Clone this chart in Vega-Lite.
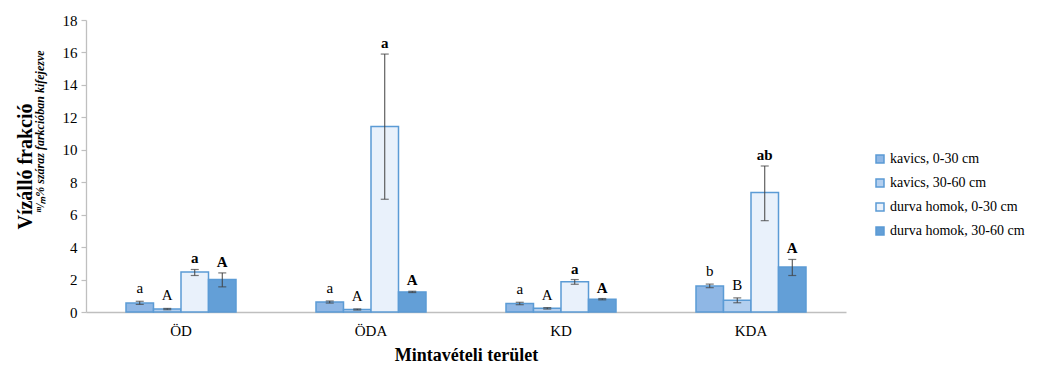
{
  "$schema": "https://vega.github.io/schema/vega-lite/v6.json",
  "width": 760,
  "height": 292,
  "autosize": {"type": "none"},
  "padding": {"left": 86, "top": 20, "right": 192, "bottom": 53},
  "background": "white",
  "config": {
    "font": "Liberation Serif",
    "view": {"stroke": null},
    "style": {"guide-label": {"font": "Liberation Serif"}, "guide-title": {"font": "Liberation Serif"}},
    "axis": {"grid": false, "labelFont": "Liberation Serif", "titleFont": "Liberation Serif", "labelColor": "#000000", "titleColor": "#000000"}
  },
  "data": {
    "values": [
      {"site": "ÖD", "series": "kavics, 0-30 cm", "value": 0.55, "lo": 0.47, "hi": 0.66, "label": "a", "bold": false},
      {"site": "ÖD", "series": "kavics, 30-60 cm", "value": 0.18, "lo": 0.14, "hi": 0.22, "label": "A", "bold": false},
      {"site": "ÖD", "series": "durva homok, 0-30 cm", "value": 2.47, "lo": 2.25, "hi": 2.62, "label": "a", "bold": true},
      {"site": "ÖD", "series": "durva homok, 30-60 cm", "value": 2.0, "lo": 1.55, "hi": 2.41, "label": "A", "bold": true},
      {"site": "ÖDA", "series": "kavics, 0-30 cm", "value": 0.62, "lo": 0.55, "hi": 0.68, "label": "a", "bold": false},
      {"site": "ÖDA", "series": "kavics, 30-60 cm", "value": 0.15, "lo": 0.12, "hi": 0.19, "label": "A", "bold": false},
      {"site": "ÖDA", "series": "durva homok, 0-30 cm", "value": 11.44, "lo": 6.95, "hi": 15.9, "label": "a", "bold": true},
      {"site": "ÖDA", "series": "durva homok, 30-60 cm", "value": 1.24, "lo": 1.2, "hi": 1.28, "label": "A", "bold": true},
      {"site": "KD", "series": "kavics, 0-30 cm", "value": 0.52, "lo": 0.45, "hi": 0.6, "label": "a", "bold": false},
      {"site": "KD", "series": "kavics, 30-60 cm", "value": 0.23, "lo": 0.18, "hi": 0.27, "label": "A", "bold": false},
      {"site": "KD", "series": "durva homok, 0-30 cm", "value": 1.86, "lo": 1.71, "hi": 2.0, "label": "a", "bold": true},
      {"site": "KD", "series": "durva homok, 30-60 cm", "value": 0.79, "lo": 0.75, "hi": 0.83, "label": "A", "bold": true},
      {"site": "KDA", "series": "kavics, 0-30 cm", "value": 1.6, "lo": 1.5, "hi": 1.72, "label": "b", "bold": false},
      {"site": "KDA", "series": "kavics, 30-60 cm", "value": 0.72, "lo": 0.57, "hi": 0.87, "label": "B", "bold": false},
      {"site": "KDA", "series": "durva homok, 0-30 cm", "value": 7.36, "lo": 5.63, "hi": 9.0, "label": "ab", "bold": true},
      {"site": "KDA", "series": "durva homok, 30-60 cm", "value": 2.78, "lo": 2.25, "hi": 3.24, "label": "A", "bold": true}
    ]
  },
  "encoding": {
    "x": {
      "field": "site", "type": "nominal", "sort": ["ÖD", "ÖDA", "KD", "KDA"],
      "scale": {"paddingInner": 0.421, "paddingOuter": 0.2105},
      "axis": {
        "title": "Mintavételi terület", "titleFont": "Liberation Serif", "titleFontSize": 18, "titleFontWeight": "bold", "titlePadding": 8,
        "labelFont": "Liberation Serif", "labelFontSize": 15, "labelPadding": 11, "labelAngle": 0, "ticks": false,
        "domainColor": "#bfbfbf", "domainWidth": 1.3
      }
    },
    "xOffset": {
      "field": "series", "type": "nominal",
      "sort": ["kavics, 0-30 cm", "kavics, 30-60 cm", "durva homok, 0-30 cm", "durva homok, 30-60 cm"],
      "scale": {"paddingInner": 0, "paddingOuter": 0}
    }
  },
  "layer": [
    {
      "mark": {"type": "bar", "stroke": "#5b9bd5", "strokeWidth": 1.5},
      "encoding": {
        "y": {
          "field": "value", "type": "quantitative",
          "scale": {"domain": [0, 18], "nice": false},
          "axis": {
            "values": [0, 2, 4, 6, 8, 10, 12, 14, 16, 18],
            "title": "ᵐ/ₘ% száraz farkcióban kifejezve",
            "titleFont": "Liberation Serif", "titleFontSize": 12, "titleFontStyle": "italic", "titleFontWeight": "bold", "titlePadding": 16, "titleY": 111,
            "labelFont": "Liberation Serif", "labelFontSize": 15, "labelPadding": 4,
            "ticks": true, "tickSize": 5, "tickColor": "#bfbfbf", "tickWidth": 1.2,
            "domainColor": "#bfbfbf", "domainWidth": 1.3
          }
        },
        "fill": {
          "field": "series", "type": "nominal",
          "sort": ["kavics, 0-30 cm", "kavics, 30-60 cm", "durva homok, 0-30 cm", "durva homok, 30-60 cm"],
          "scale": {
            "domain": ["kavics, 0-30 cm", "kavics, 30-60 cm", "durva homok, 0-30 cm", "durva homok, 30-60 cm"],
            "range": ["#8fb7e5", "#b3cfef", "#e9f1fb", "#639fd7"]
          },
          "legend": {
            "title": null, "orient": "none", "legendX": 787, "legendY": 132,
            "symbolType": "square", "symbolSize": 64, "symbolStrokeColor": "#5b9bd5", "symbolStrokeWidth": 1.5,
            "labelFont": "Liberation Serif", "labelFontSize": 14, "labelColor": "#000000", "labelOffset": 3, "rowPadding": 10, "labelLimit": 300
          }
        }
      }
    },
    {
      "mark": {"type": "rule", "color": "#404040", "strokeWidth": 1},
      "encoding": {
        "y": {"field": "lo", "type": "quantitative", "scale": {"domain": [0, 18], "nice": false}, "axis": null},
        "y2": {"field": "hi"}
      }
    },
    {
      "mark": {"type": "tick", "color": "#404040", "size": 8, "thickness": 1.2, "orient": "horizontal"},
      "encoding": {
        "y": {"field": "hi", "type": "quantitative", "scale": {"domain": [0, 18], "nice": false}, "axis": null}
      }
    },
    {
      "mark": {"type": "tick", "color": "#404040", "size": 8, "thickness": 1.2, "orient": "horizontal"},
      "encoding": {
        "y": {"field": "lo", "type": "quantitative", "scale": {"domain": [0, 18], "nice": false}, "axis": null}
      }
    },
    {
      "transform": [{"filter": "!datum.bold"}],
      "mark": {"type": "text", "font": "Liberation Serif", "fontSize": 15, "dy": -8, "baseline": "alphabetic", "color": "#000000"},
      "encoding": {
        "y": {"field": "hi", "type": "quantitative", "scale": {"domain": [0, 18], "nice": false}, "axis": null},
        "text": {"field": "label"}
      }
    },
    {
      "transform": [{"filter": "datum.bold"}],
      "mark": {"type": "text", "font": "Liberation Serif", "fontSize": 15, "fontWeight": "bold", "dy": -6, "baseline": "alphabetic", "color": "#000000"},
      "encoding": {
        "y": {
          "field": "hi", "type": "quantitative", "scale": {"domain": [0, 18], "nice": false},
          "axis": {
            "orient": "left", "labels": false, "ticks": false, "domain": false,
            "title": "Vízálló frakció", "titleFont": "Liberation Serif", "titleFontSize": 20, "titleFontWeight": "bold", "titlePadding": 51
          }
        },
        "text": {"field": "label"}
      }
    }
  ],
  "resolve": {"axis": {"y": "independent"}}
}
